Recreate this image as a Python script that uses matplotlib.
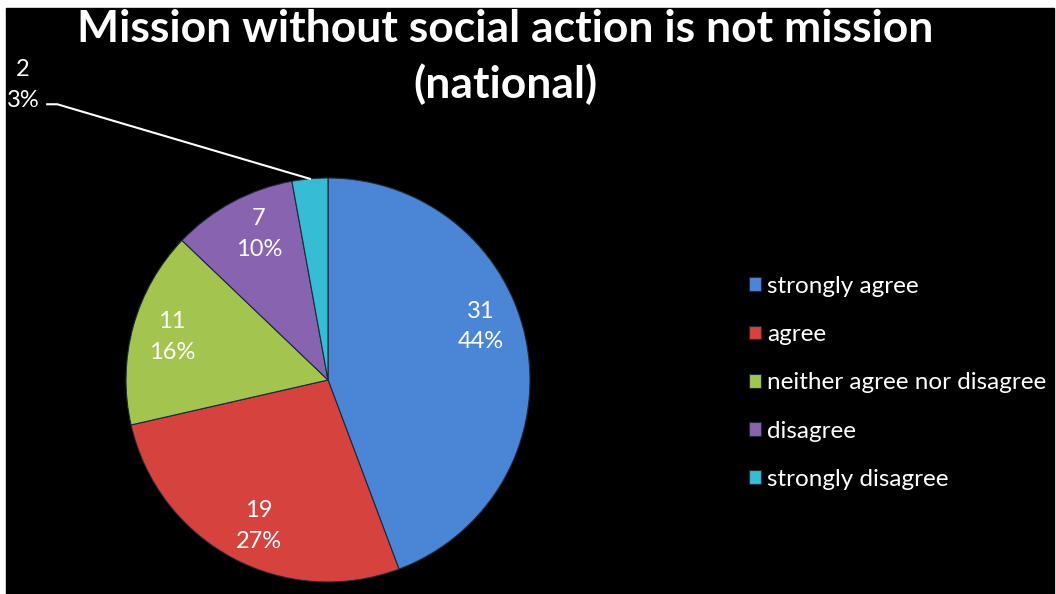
import numpy as np
import matplotlib.pyplot as plt
from matplotlib.patches import Rectangle

categories = ['strongly agree', 'agree', 'neither agree nor disagree',
              'disagree', 'strongly disagree']
counts = [31, 19, 11, 7, 2]
colors = ['#4a85d6', '#d6433f', '#a3c54f', '#8864b0', '#37bcd6']
title = 'Mission without social action is not mission\n(national)'

plt.rcParams['font.family'] = ['Lato', 'DejaVu Sans']

W, H = 1056, 594
fig = plt.figure(figsize=(W / 100, H / 100), dpi=100, facecolor='white')
# black panel with a thin white margin at top and sides
fig.patches.append(Rectangle((6 / W, 0), 1048 / W, 586 / H, color='black',
                             transform=fig.transFigure, zorder=-5))

# pie centred at (328, 380) px from the top-left, radius 202 px
cx, cy, r = 328, H - 380, 202
ax = fig.add_axes([(cx - r) / W, (cy - r) / H, 2 * r / W, 2 * r / H])
ax.set_facecolor('none')
wedges, _ = ax.pie(counts, colors=colors, startangle=90, counterclock=False,
                   radius=1, wedgeprops=dict(edgecolor='#1a2a3a', linewidth=0.8))
ax.set_xlim(-1, 1)
ax.set_ylim(-1, 1)
ax.set_aspect('equal')
ax.axis('off')

total = sum(counts)
shift = [9, 3, 0, -3, 0]
for w, n, s in zip(wedges[:-1], counts[:-1], shift):
    mid = np.deg2rad((w.theta1 + w.theta2) / 2 + s)
    ax.text(0.8 * np.cos(mid), 0.8 * np.sin(mid),
            f'{n}\n{round(100 * n / total)}%', color='white', fontsize=17,
            ha='center', va='center', linespacing=1.55)

# smallest slice gets an outside label with a leader line
w = wedges[-1]
mid = np.deg2rad((w.theta1 + w.theta2) / 2)
ax.plot([-1.39, -1.34, np.cos(mid)], [1.365, 1.365, np.sin(mid)],
        color='white', lw=1.5, clip_on=False)
ax.text(-1.51, 1.46, f'{counts[-1]}\n{round(100 * counts[-1] / total)}%',
        color='white', fontsize=17, ha='center', va='center',
        linespacing=1.55, clip_on=False)

fig.text(505 / W, 1 - 57 / H, title, color='white', fontsize=32,
         fontweight='bold', ha='center', va='center', linespacing=1.4)

fig.legend(wedges, categories, loc='upper left',
           bbox_to_anchor=(727 / W, 1 - 254 / H), frameon=False,
           fontsize=17.5, labelcolor='white', handlelength=0.5,
           handleheight=0.5, handletextpad=0.25, labelspacing=1.12)

fig.savefig('out.png', dpi=100, facecolor='white')
